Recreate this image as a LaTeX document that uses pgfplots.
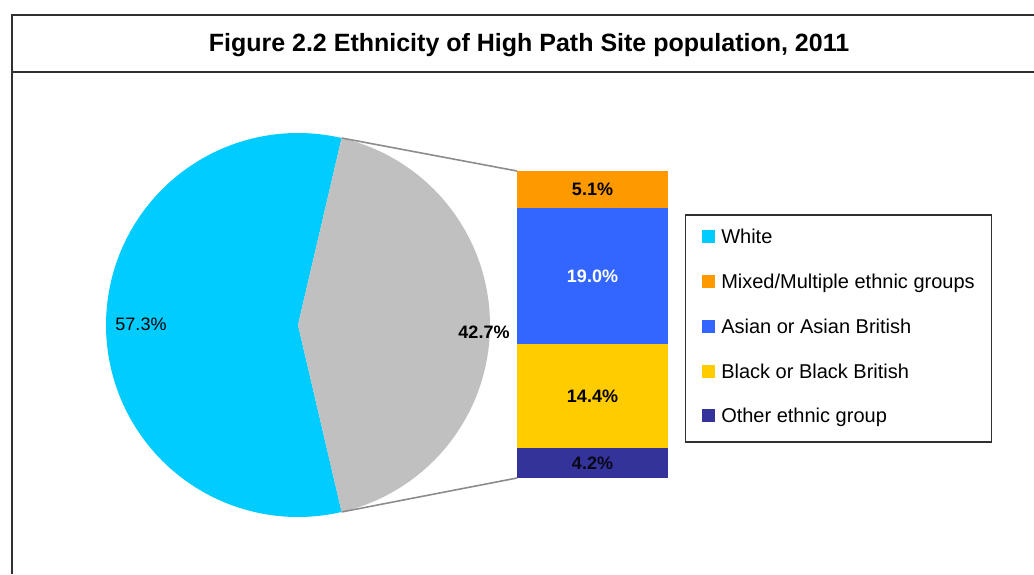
\documentclass[border=0pt]{standalone}
\usepackage{pgfplots}
\pgfplotsset{compat=1.18}
\usepackage{fontspec}
\setmainfont{Liberation Sans}
\definecolor{cWhite}{HTML}{00CCFF}
\definecolor{cRest}{HTML}{C0C0C0}
\definecolor{cMixed}{HTML}{FF9900}
\definecolor{cAsian}{HTML}{3366FF}
\definecolor{cBlack}{HTML}{FFCC00}
\definecolor{cOther}{HTML}{333399}
\definecolor{cLine}{HTML}{8C8C8C}
\definecolor{cFrame}{HTML}{303030}
% data (percent)
\def\vWhite{57.3}
\def\vRest{42.7}
\pgfmathsetmacro{\ha}{180*\vRest/100}
\begin{document}
\begin{tikzpicture}
% main canvas axis, coordinates in reference pixels (y measured from bottom)
\begin{axis}[
  at={(0pt,0pt)}, anchor=south west,
  width=517pt, height=287pt, scale only axis,
  xmin=0, xmax=1034, ymin=0, ymax=574,
  hide axis, clip=false,
  legend image code/.code={\fill[#1, draw=none] (0pt,0.3pt) rectangle (6.5pt,6.8pt);},
  legend cell align=left,
  legend style={
    at={(0.66248,0.62666)}, anchor=north west,
    draw=cFrame, line width=0.65pt,
    font=\fontsize{10}{12}\selectfont,
    inner xsep=8.3pt, inner ysep=7.0pt,
    row sep=12.375pt, column sep=3.0pt,
    nodes={inner sep=0pt, text height=7.5pt, text depth=2.5pt, anchor=base west},
  },
]
% frame and title rule
\draw[cFrame, line width=1pt] (axis cs:12,0) -- (axis cs:12,559) -- (axis cs:1034,559);
\draw[cFrame, line width=1pt] (axis cs:12,502) -- (axis cs:1034,502);
\node[anchor=base, font=\bfseries\fontsize{12.5}{15}\selectfont] at (axis cs:529,522.3)
  {Figure 2.2 Ethnicity of High Path Site population, 2011};
% pie: White wedge (left) and the rest (right)
\addplot[fill=cWhite, draw=none, domain=\ha:360-\ha, samples=181, forget plot]
  ({298+192*cos(x)},{249+192*sin(x)}) -- (axis cs:298,249) -- cycle;
\addplot[fill=cRest, draw=none, domain=-\ha:\ha, samples=181, forget plot]
  ({298+192*cos(x)},{249+192*sin(x)}) -- (axis cs:298,249) -- cycle;
% connector lines
\draw[cLine, line width=0.8pt] (axis cs:{298+192*cos(\ha)},{249+192*sin(\ha)}) -- (axis cs:517,403);
\draw[cLine, line width=0.8pt] (axis cs:{298+192*cos(\ha)},{249-192*sin(\ha)}) -- (axis cs:517,96);
% pie labels
\node[anchor=base, font=\fontsize{9}{11}\selectfont] at (axis cs:141,243) {57.3\%};
\node[anchor=base, font=\bfseries\fontsize{9}{11}\selectfont] at (axis cs:484,235.7) {42.7\%};
% legend
\addlegendimage{fill=cWhite}\addlegendentry{White}
\addlegendimage{fill=cMixed}\addlegendentry{Mixed/Multiple ethnic groups}
\addlegendimage{fill=cAsian}\addlegendentry{Asian or Asian British}
\addlegendimage{fill=cBlack}\addlegendentry{Black or Black British}
\addlegendimage{fill=cOther}\addlegendentry{Other ethnic group}
\end{axis}
% stacked bar of the 42.7% remainder
\begin{axis}[
  at={(258.5pt,48pt)}, anchor=south west,
  width=75.5pt, height=153.5pt, scale only axis,
  xmin=0, xmax=1, ymin=0, ymax=42.7,
  hide axis, clip=false,
  ybar stacked, bar width=75.5pt,
  after end axis/.code={
    \node[font=\bfseries\fontsize{9}{11}\selectfont, text=black!85!cOther] at (axis cs:0.5,2.1) {4.2\%};
    \node[font=\bfseries\fontsize{9}{11}\selectfont, text=black] at (axis cs:0.5,11.4) {14.4\%};
    \node[font=\bfseries\fontsize{9}{11}\selectfont, text=white] at (axis cs:0.5,28.1) {19.0\%};
    \node[font=\bfseries\fontsize{9}{11}\selectfont, text=black] at (axis cs:0.5,40.15) {5.1\%};
  },
]
\addplot[fill=cOther, draw=none] coordinates {(0.5,4.2)};
\addplot[fill=cBlack, draw=none] coordinates {(0.5,14.4)};
\addplot[fill=cAsian, draw=none] coordinates {(0.5,19.0)};
\addplot[fill=cMixed, draw=none] coordinates {(0.5,5.1)};
\end{axis}
\pgfresetboundingbox
\useasboundingbox (0pt,0pt) rectangle (517pt,287pt);
\end{tikzpicture}
\end{document}
